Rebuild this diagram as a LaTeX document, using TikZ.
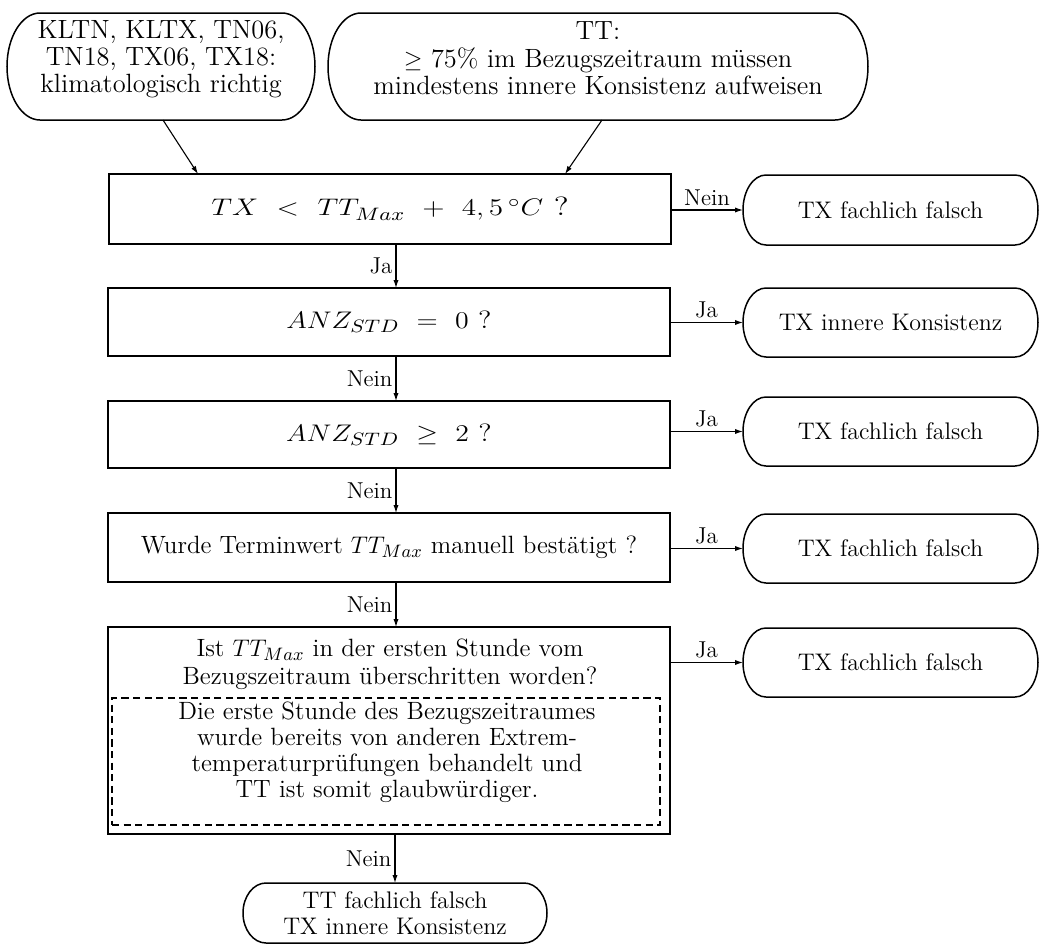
\documentclass[tikz,border=0pt]{standalone}
\usepackage{graphicx}
\usetikzlibrary{arrows.meta}

% font sizes used in the chart
\newcommand\boxfont{\fontsize{12}{13}\selectfont}
\newcommand\askfont{\fontsize{12.5}{13}\selectfont}
\newcommand\srcfont{\fontsize{13.2}{13.4}\selectfont}
\newcommand\lblfont{\fontsize{11.5}{13}\selectfont}
\newcommand\eqfont{\fontsize{12.5}{13}\selectfont}
\newcommand\bigeqfont{\fontsize{13.2}{13}\selectfont}
% wide set formulas
\newcommand\widemath[2][1.16]{\scalebox{#1}[1]{#2}}

% outline with half-elliptic ends around a named node
\newcommand\ovalframe[3]{%
  \draw[boxline] ([xshift=#2]#1.north west) -- ([xshift=-#2]#1.north east)
    arc[start angle=90, end angle=-90, x radius=#2, y radius=#3]
    -- ([xshift=#2]#1.south west)
    arc[start angle=270, end angle=90, x radius=#2, y radius=#3] -- cycle;}

\tikzset{
  boxline/.style={line width=0.75pt},
  oval/.style={rectangle, inner sep=0pt, outer sep=0pt, align=center, font=\boxfont},
  srctext/.style={inner sep=0pt, align=center, font=\srcfont},
  plaintext/.style={inner sep=0pt, align=center, font=\askfont},
  check/.style={rectangle, draw, boxline, inner sep=0pt, outer sep=0pt,
    minimum width=281pt, align=center, font=\askfont},
  note/.style={rectangle, draw, line width=0.7pt, dash pattern=on 3.6pt off 2.2pt,
    inner sep=0pt, outer sep=0pt},
  flow/.style={line width=0.55pt, -{Latex[length=4pt,width=2.6pt]}},
  hlabel/.style={above, inner sep=2pt, font=\lblfont},
  vlabel/.style={left, inner sep=1.5pt, font=\lblfont},
}

\begin{document}
\begin{tikzpicture}[x=0.5pt, y=-0.5pt]
\fill[white] (0,0) rectangle (1040,944);

% preconditions
\node[oval, minimum width=154pt, minimum height=53.5pt] (src1) at (161,66.5) {};
\node[srctext] (src1txt) at (161,59) {KLTN, KLTX, TN06,\\TN18, TX06, TX18:\\klimatologisch richtig};
\ovalframe{src1}{16.5pt}{26.75pt}

\node[oval, minimum width=270pt, minimum height=53.5pt] (src2) at (598,66.5) {};
\node[srctext] (src2txt) at (598,58) {TT:\\[1pt]$\geq$ 75\% im Bezugszeitraum müssen\\mindestens innere Konsistenz aufweisen};
\ovalframe{src2}{16.5pt}{26.75pt}

% checks
\node[check, minimum height=35pt] (q1) at (390,209)
  {\bigeqfont\widemath[1.22]{$TX\ <\ TT_{Max}\ +\ 4,5\,^{\circ}C$ ?}};
\node[check, minimum height=34pt] (q2) at (389,322)
  {\eqfont\widemath{$ANZ_{STD}\ =\ 0$ ?}};
\node[check, minimum height=33.5pt] (q3) at (389,434.5)
  {\eqfont\widemath{$ANZ_{STD}\ \geq\ 2$ ?}};
\node[check, minimum height=34.5pt] (q4) at (389,547.5)
  {Wurde Terminwert $TT_{Max}$ manuell bestätigt ?};
\node[check, minimum height=103.5pt] (q5) at (389,730.5) {};
\node[plaintext] (q5txt) at (390,664)
  {Ist $TT_{Max}$ in der ersten Stunde vom\\[1pt]Bezugszeitraum überschritten worden?};
\node[note, minimum width=274pt, minimum height=63.5pt] (hint) at (386,761.5) {};
\node[plaintext] (hinttxt) at (387,752)
  {Die erste Stunde des Bezugszeitraumes\\wurde bereits von anderen Extrem-\\temperaturprüfungen behandelt und\\TT ist somit glaubwürdiger.};

% outcomes
\node[oval, minimum width=147.5pt, minimum height=35pt] (r1) at (890.5,210) {TX fachlich falsch};
\ovalframe{r1}{11.5pt}{17.5pt}
\node[oval, minimum width=147.5pt, minimum height=34.5pt] (r2) at (890.5,322.5) {TX innere Konsistenz};
\ovalframe{r2}{11.5pt}{17.25pt}
\node[oval, minimum width=147.5pt, minimum height=34.5pt] (r3) at (890.5,431.5) {TX fachlich falsch};
\ovalframe{r3}{11.5pt}{17.25pt}
\node[oval, minimum width=147.5pt, minimum height=34.5pt] (r4) at (890.5,548.5) {TX fachlich falsch};
\ovalframe{r4}{11.5pt}{17.25pt}
\node[oval, minimum width=147.5pt, minimum height=34.5pt] (r5) at (890.5,662.5) {TX fachlich falsch};
\ovalframe{r5}{11.5pt}{17.25pt}
\node[oval, minimum width=152pt, minimum height=30pt] (fin) at (395,913) {TT fachlich falsch\\TX innere Konsistenz};
\ovalframe{fin}{11.5pt}{15pt}

% connectors
\draw[flow] ([xshift=1pt]src1.south) -- ([xshift=-96pt]q1.north);
\draw[flow] ([xshift=2pt]src2.south) -- ([xshift=87.5pt]q1.north);

\draw[flow] (q1.east |- r1.west) -- node[hlabel]{Nein} (r1.west);
\draw[flow] (q2.east |- r2.west) -- node[hlabel]{Ja} (r2.west);
\draw[flow] (q3.east |- r3.west) -- node[hlabel]{Ja} (r3.west);
\draw[flow] (q4.east |- r4.west) -- node[hlabel]{Ja} (r4.west);
\draw[flow] (q5.east |- r5.west) -- node[hlabel]{Ja} (r5.west);

\draw[flow] ([xshift=3pt]q1.south) -- node[vlabel]{Ja} ([xshift=3pt]q1.south |- q2.north);
\draw[flow] ([xshift=3.5pt]q2.south) -- node[vlabel]{Nein} ([xshift=3.5pt]q3.north);
\draw[flow] ([xshift=3.5pt]q3.south) -- node[vlabel]{Nein} ([xshift=3.5pt]q4.north);
\draw[flow] ([xshift=3.5pt]q4.south) -- node[vlabel]{Nein} ([xshift=3.5pt]q5.north);
\draw[flow] ([xshift=3pt]q5.south) -- node[vlabel]{Nein} ([xshift=3pt]q5.south |- fin.north);
\end{tikzpicture}
\end{document}
